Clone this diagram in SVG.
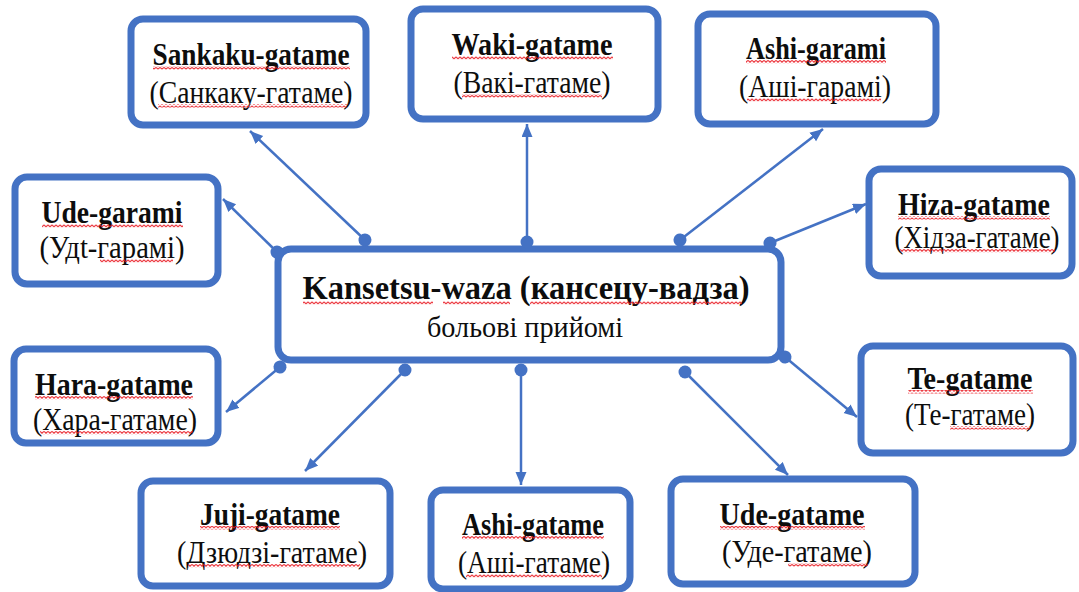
<svg xmlns="http://www.w3.org/2000/svg" width="1079" height="592" viewBox="0 0 1079 592">
  <style>
    .box { fill: #ffffff; stroke: #4472c4; stroke-width: 7; }
    .t1 { font-weight: bold; font-size: 27px; text-anchor: middle; fill: #0d0d0d; }
    .t2 { font-size: 27px; text-anchor: middle; fill: #0d0d0d; }
    .title { font-size: 32px; }
    .sub { font-size: 26px; }
    .link { fill: none; stroke: #4472c4; stroke-width: 2.5; marker-start: url(#dot); marker-end: url(#arrow); }
    .wave { fill: url(#squiggle); }
  </style>
  <defs>
    <marker id="arrow" markerUnits="userSpaceOnUse" markerWidth="14" markerHeight="12" refX="13" refY="5.5" orient="auto">
      <path d="M0,0 L13,5.5 L0,11 z" fill="#4472c4"/>
    </marker>
    <marker id="dot" markerUnits="userSpaceOnUse" markerWidth="14" markerHeight="14" refX="7" refY="7" orient="auto">
      <circle cx="7" cy="7" r="6.5" fill="#4472c4"/>
    </marker>
    <pattern id="squiggle" width="4" height="3.5" patternUnits="userSpaceOnUse">
      <path d="M0,0.8 L2,2.8 L4,0.8" fill="none" stroke="#e8141c" stroke-width="0.9"/>
    </pattern>
  </defs>

  <rect width="1079" height="592" fill="#ffffff"/>

  <!-- all labels are set slightly tall: scale(1,1.15) about their baseline -->
  <g font-family="Liberation Serif, DejaVu Serif, serif">
  <!-- central node -->
  <g id="kansetsu-waza">
    <rect class="box" x="278" y="249" width="503" height="111" rx="13"/>
    <text class="t1 title" transform="translate(526,299) scale(1,1.08)" textLength="447" lengthAdjust="spacingAndGlyphs">Kansetsu-waza (кансецу-вадза)</text>
    <text class="t2 sub" transform="translate(525,337) scale(1,1.12)" textLength="196" lengthAdjust="spacingAndGlyphs">больові прийомі</text>
    <rect class="wave" x="303" y="301" width="130" height="3.5"/>
    <rect class="wave" x="443" y="301" width="67" height="3.5"/>
    <rect class="wave" x="530" y="301" width="212" height="3.5"/>
  </g>

  <g id="sankaku-gatame">
    <rect class="box" x="131" y="19" width="235" height="106" rx="12"/>
    <text class="t1" transform="translate(251,65) scale(1,1.15)" textLength="197" lengthAdjust="spacingAndGlyphs">Sankaku-gatame</text>
    <text class="t2" transform="translate(251,103) scale(1,1.15)" textLength="203" lengthAdjust="spacingAndGlyphs">(Санкаку-гатаме)</text>
    <rect class="wave" x="153" y="66" width="197" height="3.5"/>
    <rect class="wave" x="158" y="104" width="189" height="3.5"/>
  </g>

  <g id="waki-gatame">
    <rect class="box" x="411" y="9" width="247" height="110" rx="12"/>
    <text class="t1" transform="translate(532,55) scale(1,1.15)" textLength="161" lengthAdjust="spacingAndGlyphs">Waki-gatame</text>
    <text class="t2" transform="translate(532,93) scale(1,1.15)" textLength="157" lengthAdjust="spacingAndGlyphs">(Вакі-гатаме)</text>
    <rect class="wave" x="452" y="56" width="161" height="3.5"/>
    <rect class="wave" x="462" y="94" width="140" height="3.5"/>
  </g>

  <g id="ashi-garami">
    <rect class="box" x="698" y="14" width="238" height="110" rx="12"/>
    <text class="t1" transform="translate(816,59) scale(1,1.15)" textLength="140" lengthAdjust="spacingAndGlyphs">Ashi-garami</text>
    <text class="t2" transform="translate(815,97) scale(1,1.15)" textLength="152" lengthAdjust="spacingAndGlyphs">(Аші-гарамі)</text>
    <rect class="wave" x="746" y="60" width="140" height="3.5"/>
    <rect class="wave" x="747" y="98" width="134" height="3.5"/>
  </g>

  <g id="ude-garami">
    <rect class="box" x="15" y="177" width="203" height="107" rx="12"/>
    <text class="t1" transform="translate(112,223) scale(1,1.15)" textLength="141" lengthAdjust="spacingAndGlyphs">Ude-garami</text>
    <text class="t2" transform="translate(112,258) scale(1,1.15)" textLength="145" lengthAdjust="spacingAndGlyphs">(Удt-гарамі)</text>
    <rect class="wave" x="42" y="224" width="141" height="3.5"/>
    <rect class="wave" x="100" y="259" width="73" height="3.5"/>
  </g>

  <g id="hiza-gatame">
    <rect class="box" x="869" y="169" width="203" height="107" rx="12"/>
    <text class="t1" transform="translate(974,215) scale(1,1.15)" textLength="152" lengthAdjust="spacingAndGlyphs">Hiza-gatame</text>
    <text class="t2" transform="translate(977,248) scale(1,1.15)" textLength="165" lengthAdjust="spacingAndGlyphs">(Хідза-гатаме)</text>
    <rect class="wave" x="898" y="216" width="152" height="3.5"/>
    <rect class="wave" x="900" y="249" width="155" height="3.5"/>
  </g>

  <g id="hara-gatame">
    <rect class="box" x="14" y="349" width="204" height="94" rx="12"/>
    <text class="t1" transform="translate(114,395) scale(1,1.15)" textLength="158" lengthAdjust="spacingAndGlyphs">Hara-gatame</text>
    <text class="t2" transform="translate(115,430) scale(1,1.15)" textLength="164" lengthAdjust="spacingAndGlyphs">(Хара-гатаме)</text>
    <rect class="wave" x="35" y="396" width="158" height="3.5"/>
    <rect class="wave" x="40" y="431" width="153" height="3.5"/>
  </g>

  <g id="te-gatame">
    <rect class="box" x="861" y="346" width="212" height="107" rx="12"/>
    <text class="t1" transform="translate(970,389) scale(1,1.15)" textLength="125" lengthAdjust="spacingAndGlyphs">Te-gatame</text>
    <text class="t2" transform="translate(970,425) scale(1,1.15)" textLength="130" lengthAdjust="spacingAndGlyphs">(Те-гатаме)</text>
    <rect class="wave" x="908" y="390" width="125" height="3.5"/>
    <rect class="wave" x="950" y="426" width="80" height="3.5"/>
  </g>

  <g id="juji-gatame">
    <rect class="box" x="141" y="481" width="249" height="105" rx="12"/>
    <text class="t1" transform="translate(270,525) scale(1,1.15)" textLength="140" lengthAdjust="spacingAndGlyphs">Juji-gatame</text>
    <text class="t2" transform="translate(272,563) scale(1,1.15)" textLength="190" lengthAdjust="spacingAndGlyphs">(Дзюдзі-гатаме)</text>
    <rect class="wave" x="200" y="526" width="140" height="3.5"/>
    <rect class="wave" x="188" y="564" width="172" height="3.5"/>
  </g>

  <g id="ashi-gatame">
    <rect class="box" x="431" y="490" width="199" height="99" rx="12"/>
    <text class="t1" transform="translate(533,535) scale(1,1.15)" textLength="142" lengthAdjust="spacingAndGlyphs">Ashi-gatame</text>
    <text class="t2" transform="translate(534,573) scale(1,1.15)" textLength="152" lengthAdjust="spacingAndGlyphs">(Аші-гатаме)</text>
    <rect class="wave" x="462" y="536" width="142" height="3.5"/>
    <rect class="wave" x="466" y="574" width="136" height="3.5"/>
  </g>

  <g id="ude-gatame">
    <rect class="box" x="671" y="479" width="244" height="105" rx="12"/>
    <text class="t1" transform="translate(792,525) scale(1,1.15)" textLength="145" lengthAdjust="spacingAndGlyphs">Ude-gatame</text>
    <text class="t2" transform="translate(797,562) scale(1,1.15)" textLength="150" lengthAdjust="spacingAndGlyphs">(Уде-гатаме)</text>
    <rect class="wave" x="720" y="526" width="145" height="3.5"/>
    <rect class="wave" x="788" y="563" width="80" height="3.5"/>
  </g>
  </g>

  <!-- connectors: dot on the central node, arrow at the technique -->
  <g id="connectors">
    <line class="link" x1="365" y1="240" x2="250" y2="131"/>
    <line class="link" x1="527" y1="242" x2="527" y2="124"/>
    <line class="link" x1="680" y1="240" x2="823" y2="129"/>
    <line class="link" x1="277" y1="252" x2="223" y2="199"/>
    <line class="link" x1="770" y1="243" x2="866" y2="204"/>
    <line class="link" x1="280" y1="367" x2="226" y2="412"/>
    <line class="link" x1="785" y1="357" x2="857" y2="417"/>
    <line class="link" x1="405" y1="370" x2="305" y2="471"/>
    <line class="link" x1="521" y1="370" x2="521" y2="485"/>
    <line class="link" x1="685" y1="372" x2="788" y2="475"/>
  </g>
</svg>
